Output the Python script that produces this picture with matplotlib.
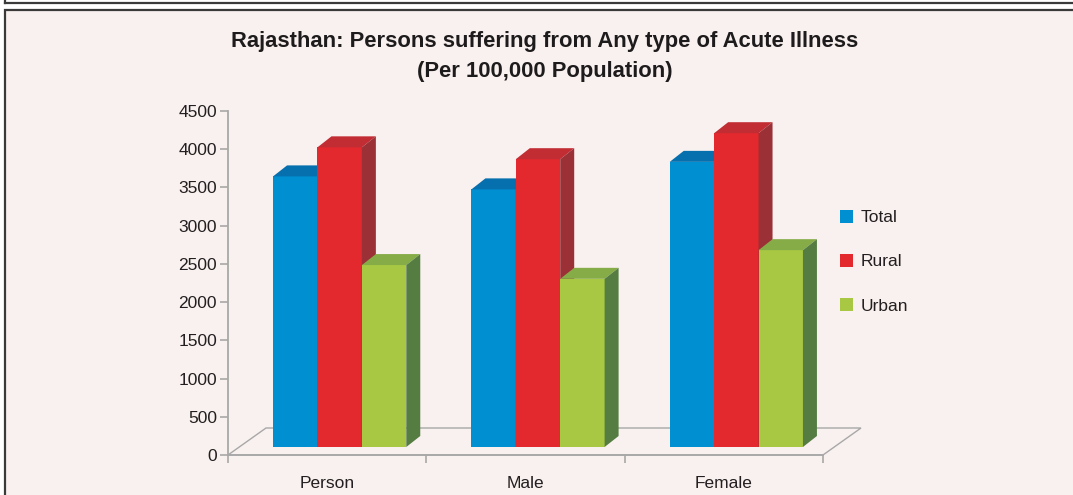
import matplotlib
matplotlib.use("Agg")
import matplotlib.pyplot as plt
from matplotlib.patches import Polygon, Rectangle, Patch
from matplotlib.lines import Line2D
import numpy as np

# ---- data ----
categories = ["Person", "Male", "Female"]
series_names = ["Total", "Rural", "Urban"]
total = [3540, 3370, 3730]
rural = [3920, 3765, 4105]
urban = [2380, 2200, 2575]
yticks = [0, 500, 1000, 1500, 2000, 2500, 3000, 3500, 4000, 4500]

front_cols = ["#008fd0", "#e3292e", "#a8c843"]
top_cols = ["#066fae", "#c22d34", "#86ac48"]
side_cols = ["#0a5f94", "#9b3036", "#557d42"]

W, H = 1073, 495
BG = "#f9f1ef"
FONT = ["Liberation Sans Narrow", "Liberation Sans", "DejaVu Sans"]
plt.rcParams['font.family'] = FONT

fig = plt.figure(figsize=(W / 100, H / 100), dpi=100, facecolor="white")

def px(x, y):
    return (x / W, 1 - y / H)

# outer frame
fig.patches.append(Rectangle(px(5, 600), (1200) / W, (590) / H, transform=fig.transFigure,
                             facecolor=BG, edgecolor="#3a3a3a", linewidth=1.6, zorder=-5))
fig.lines.append(Line2D([5 / W, 1.0], [1 - 2.5 / H, 1 - 2.5 / H], transform=fig.transFigure,
                        color="#3a3a3a", linewidth=1.6, zorder=-5))
fig.lines.append(Line2D([5 / W, 5 / W], [1.0, 1 - 2.5 / H], transform=fig.transFigure,
                        color="#3a3a3a", linewidth=1.6, zorder=-5))

# axes
x0p, x1p, y0p, y1p = 228, 823, 455, 111
ax = fig.add_axes([x0p / W, 1 - y0p / H, (x1p - x0p) / W, (y0p - y1p) / H])
ax.set_zorder(2)
ax.set_facecolor("none")
ax.set_xlim(-0.5, 2.5)
ax.set_ylim(0, 4500)

xpx = (x1p - x0p) / 3.0          # px per category unit
ypx = (y0p - y1p) / 4500.0       # px per value unit
def dx(p): return p / xpx
def dy(p): return p / ypx

grey = "#a8a8a8"
for s in ["top", "right"]:
    ax.spines[s].set_visible(False)
for s in ["left", "bottom"]:
    ax.spines[s].set_color(grey)
    ax.spines[s].set_linewidth(1.3)

# floor
fd_x, fd_y = dx(38), dy(27)
floor = Polygon([(-0.5, 0), (2.5, 0), (2.5 + fd_x, fd_y), (-0.5 + fd_x, fd_y)],
                closed=True, facecolor="none", edgecolor=grey, linewidth=1.0,
                clip_on=False, zorder=1)
ax.add_patch(floor)

# bars
values = [total, rural, urban]
bw = dx(44.4)
base = dy(8)
shift = dx(12.5)
ddx, ddy = dx(14), dy(11)
xs = np.arange(len(categories))
for j, vals in enumerate(values):
    lefts = xs + shift + (j - 1.5) * bw
    ax.bar(lefts, vals, width=bw, bottom=base, align="edge", color=front_cols[j],
           linewidth=0, zorder=3 + j, clip_on=False, label=series_names[j])
    for xl, v in zip(lefts, vals):
        top = base + v
        ax.add_patch(Polygon([(xl, top), (xl + bw, top), (xl + bw + ddx, top + ddy), (xl + ddx, top + ddy)],
                             closed=True, facecolor=top_cols[j], linewidth=0, zorder=3 + j, clip_on=False))
        ax.add_patch(Polygon([(xl + bw, base), (xl + bw + ddx, base + ddy), (xl + bw + ddx, top + ddy), (xl + bw, top)],
                             closed=True, facecolor=side_cols[j], linewidth=0, zorder=3 + j, clip_on=False))

# ticks
ax.set_yticks(yticks)
ax.set_yticklabels([str(t) for t in yticks])
ax.tick_params(axis="y", direction="out", length=6, width=1.2, color=grey,
               labelsize=12.5, labelcolor="#231f20", pad=2)
ax.set_xticks(xs)
ax.set_xticklabels(categories)
ax.tick_params(axis="x", which="major", length=0, labelsize=12.5, labelcolor="#231f20", pad=15)
ax.set_xticks([-0.5, 0.5, 1.5, 2.5], minor=True)
ax.tick_params(axis="x", which="minor", direction="out", length=6, width=1.2, color=grey)

# title
fig.text(545 / W, 1 - 41 / H, "Rajasthan: Persons suffering from Any type of Acute Illness",
         ha="center", va="center", fontsize=15.8, fontweight="bold", color="#1e1b1c")
fig.text(545 / W, 1 - 72 / H, "(Per 100,000 Population)",
         ha="center", va="center", fontsize=15.8, fontweight="bold", color="#1e1b1c")

# legend
handles = [Patch(facecolor=c, edgecolor="none") for c in front_cols]
leg = fig.legend(handles, series_names, loc="upper left",
                 bbox_to_anchor=(840 / W, 1 - 210 / H), frameon=False,
                 fontsize=12.5, handlelength=0.75, handleheight=0.75,
                 handletextpad=0.45, labelspacing=1.65, borderpad=0, borderaxespad=0)
for t in leg.get_texts():
    t.set_color("#231f20")

fig.savefig("out.png", dpi=100, facecolor="white")
